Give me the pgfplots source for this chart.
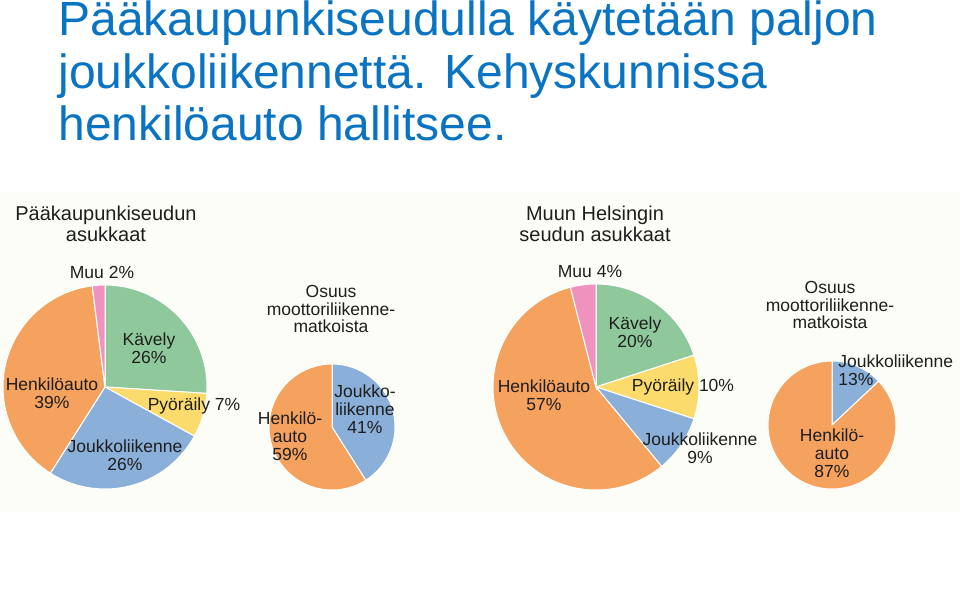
\documentclass[border=0pt]{standalone}
\usepackage{pgfplots}
\pgfplotsset{compat=1.18}
\usepackage{pgfplotstable}
\usepackage{fontspec}
\setmainfont{Liberation Sans}
\definecolor{titleblue}{HTML}{0A74C2}
\definecolor{txt}{HTML}{1E1E1E}
\definecolor{bg}{HTML}{FDFDF7}
\definecolor{kav}{HTML}{8FC99B}
\definecolor{pyo}{HTML}{FBDB6B}
\definecolor{jou}{HTML}{8AAFD9}
\definecolor{hen}{HTML}{F4A25E}
\definecolor{muu}{HTML}{EF93BE}

\tikzset{
  lbl/.style={inner sep=0pt, text=txt, align=center, font=\fontsize{8.75}{8.9}\selectfont},
  ttl/.style={inner sep=0pt, text=txt, align=center, font=\fontsize{10}{9.2}\selectfont},
  big/.style={inner sep=0pt, anchor=base west, text=titleblue, font=\fontsize{24}{26}\selectfont},
}

% slice shares (percent), clockwise from the top
\pgfplotstableread{
val col
26 kav
7 pyo
26 jou
39 hen
2 muu
}\pieA
\pgfplotstableread{
val col
41 jou
59 hen
}\pieB
\pgfplotstableread{
val col
20 kav
10 pyo
9 jou
57 hen
4 muu
}\pieC
\pgfplotstableread{
val col
13 jou
87 hen
}\pieD

% #1 cx, #2 cy (pixel coords), #3 radius (pt), #4 table
\newcommand\drawpie[4]{%
  \pgfplotstablegetrowsof{#4}%
  \pgfmathtruncatemacro{\nlast}{\pgfplotsretval-1}%
  \def\cum{0}%
  \pgfplotsforeachungrouped \i in {0,...,\nlast}{%
    \pgfplotstablegetelem{\i}{val}\of#4\let\v\pgfplotsretval
    \pgfplotstablegetelem{\i}{col}\of#4\let\c\pgfplotsretval
    \pgfmathsetmacro{\sa}{90-3.6*\cum}%
    \pgfmathsetmacro{\ea}{90-3.6*(\cum+\v)}%
    \edef\temp{\noexpand\fill[\c, draw=white, line width=0.5pt] (axis cs:#1,#2) -- ++(\sa:#3) arc[start angle=\sa, end angle=\ea, radius=#3] -- cycle;}%
    \temp
    \pgfmathsetmacro{\cum}{\cum+\v}%
  }%
}

\begin{document}
\begin{tikzpicture}
\begin{axis}[
  x=0.5pt, y=0.5pt,
  xmin=0, xmax=960, ymin=0, ymax=590,
  y dir=reverse,
  hide axis, clip=false,
]
\fill[white] (axis cs:0,0) rectangle (axis cs:960,590);
\fill[bg] (axis cs:0,192) rectangle (axis cs:960,512);

\drawpie{105}{387}{51pt}{\pieA}
\drawpie{332}{427}{31.5pt}{\pieB}
\drawpie{596}{387}{51.5pt}{\pieC}
\drawpie{832}{425}{32pt}{\pieD}

% title
\node[big] at (axis cs:58,35) {Pääkaupunkiseudulla käytetään paljon};
\node[big] at (axis cs:58,88) {joukkoliikennettä. Kehyskunnissa};
\node[big] at (axis cs:58,140) {henkilöauto hallitsee.};

% pie 1
\node[ttl] at (axis cs:106,224) {Pääkaupunkiseudun\\asukkaat};
\node[lbl] at (axis cs:102,272) {Muu 2\%};
\node[lbl] at (axis cs:149,348) {Kävely\\26\%};
\node[lbl] at (axis cs:194,406) {Pyöräily 7\%};
\node[lbl] at (axis cs:52,393) {Henkilöauto\\39\%};
\node[lbl] at (axis cs:125,455) {Joukkoliikenne\\26\%};

% pie 2
\node[lbl] at (axis cs:331,309) {Osuus\\moottoriliikenne-\\matkoista};
\node[lbl] at (axis cs:365,409) {Joukko-\\liikenne\\41\%};
\node[lbl] at (axis cs:290,436) {Henkilö-\\auto\\59\%};

% pie 3
\node[ttl] at (axis cs:595,224) {Muun Helsingin\\seudun asukkaat};
\node[lbl] at (axis cs:590,272) {Muu 4\%};
\node[lbl] at (axis cs:635,332) {Kävely\\20\%};
\node[lbl] at (axis cs:683,387) {Pyöräily 10\%};
\node[lbl] at (axis cs:544,395) {Henkilöauto\\57\%};
\node[lbl] at (axis cs:700,448) {Joukkoliikenne\\9\%};

% pie 4
\node[lbl] at (axis cs:830,305) {Osuus\\moottoriliikenne-\\matkoista};
\node[lbl, anchor=west, align=left] at (axis cs:838,370) {Joukkoliikenne\\13\%};
\node[lbl] at (axis cs:832,453) {Henkilö-\\auto\\87\%};
\end{axis}
\pgfresetboundingbox
\path[use as bounding box] (current axis.south west) rectangle (current axis.north east);
\end{tikzpicture}
\end{document}
